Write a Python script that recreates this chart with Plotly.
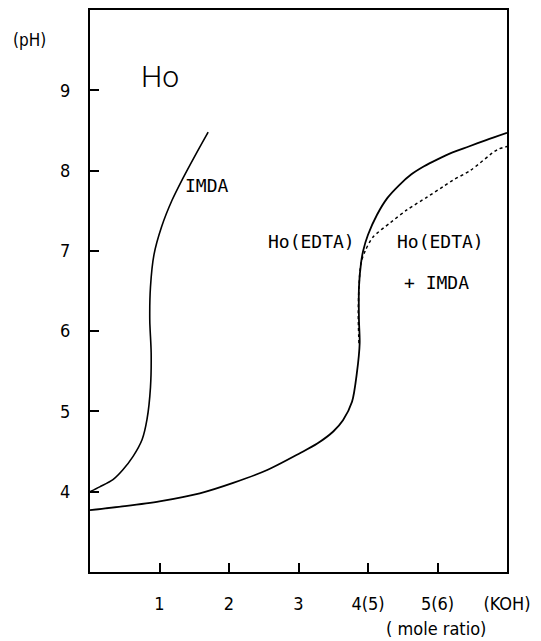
import plotly.graph_objects as go

# IMDA titration curve (x = mole ratio, pH)
imda_x = [0.0, 0.14, 0.33, 0.47, 0.62, 0.75, 0.82, 0.87, 0.88, 0.86, 0.87, 0.92, 1.03, 1.18, 1.34, 1.52, 1.70]
imda_y = [4.00, 4.06, 4.15, 4.27, 4.44, 4.65, 4.90, 5.30, 5.73, 6.14, 6.55, 6.95, 7.30, 7.63, 7.91, 8.20, 8.48]

# Ho(EDTA) curve (solid)
edta_x = [0.0, 0.5, 1.0, 1.58, 2.06, 2.55, 3.02, 3.27, 3.50, 3.64, 3.77, 3.84, 3.88, 3.87,
          3.87, 3.90, 3.93, 4.00, 4.13, 4.28, 4.45, 4.62, 4.80, 5.00, 5.20, 5.45, 5.70, 6.0]
edta_y = [3.77, 3.82, 3.88, 3.98, 4.11, 4.27, 4.48, 4.60, 4.75, 4.89, 5.12, 5.48, 5.85, 6.14,
          6.55, 6.85, 7.00, 7.20, 7.45, 7.66, 7.82, 7.95, 8.05, 8.14, 8.22, 8.30, 8.38, 8.47]

# Ho(EDTA) + IMDA curve (dotted)
mix_x = [3.87, 3.86, 3.87, 3.90, 3.96, 4.07, 4.32, 4.56, 4.85, 5.08, 5.22, 5.47, 5.86, 6.0]
mix_y = [5.85, 6.20, 6.55, 6.85, 7.00, 7.17, 7.35, 7.51, 7.67, 7.80, 7.88, 8.00, 8.26, 8.30]

x_tickvals = [1, 2, 3, 4, 5, 6]
x_ticktext = ["1", "2", "3", "4(5)", "5(6)", "(KOH)"]
y_tickvals = [4, 5, 6, 7, 8, 9]
y_ticktext = ["4", "5", "6", "7", "8", "9"]

FONT = "DejaVu Sans Condensed, Liberation Sans Narrow, DejaVu Sans"
MONO = "DejaVu Sans Mono, Liberation Mono, monospace"

fig = go.Figure()
fig.add_trace(go.Scatter(x=imda_x, y=imda_y, mode="lines",
                         line=dict(color="black", width=1.6, shape="spline", smoothing=0.8),
                         showlegend=False))
fig.add_trace(go.Scatter(x=edta_x, y=edta_y, mode="lines",
                         line=dict(color="black", width=1.8, shape="spline", smoothing=0.8),
                         showlegend=False))
fig.add_trace(go.Scatter(x=mix_x, y=mix_y, mode="lines",
                         line=dict(color="black", width=1.5, dash="dot", shape="spline", smoothing=0.8),
                         showlegend=False))

fig.update_xaxes(range=[0, 6], tickvals=x_tickvals, ticktext=x_ticktext,
                 ticks="inside", ticklen=9, tickwidth=1.5, tickcolor="black",
                 showline=True, linecolor="black", linewidth=2, mirror=True,
                 showgrid=False, zeroline=False, ticklabelstandoff=14, automargin=False,
                 tickfont=dict(family=FONT, size=18, color="black"))
fig.update_yaxes(range=[3, 10], tickvals=y_tickvals, ticktext=y_ticktext,
                 ticks="inside", ticklen=9, tickwidth=1.5, tickcolor="black",
                 showline=True, linecolor="black", linewidth=2, mirror=True,
                 showgrid=False, zeroline=False, ticklabelstandoff=14, automargin=False,
                 tickfont=dict(family=FONT, size=18, color="black"))

ann_font = dict(family=MONO, size=18, color="black")
fig.add_annotation(text="(pH)", xref="paper", yref="paper", x=-0.144, y=0.947,
                   xanchor="center", yanchor="middle", showarrow=False,
                   font=dict(family=FONT, size=17, color="black"))
fig.add_annotation(text="Ho", x=1.0, y=9.17, showarrow=False,
                   font=dict(family="Roboto", size=30, color="black", weight=300))
fig.add_annotation(text="IMDA", x=1.68, y=7.82, showarrow=False, font=ann_font)
fig.add_annotation(text="Ho(EDTA)", x=3.19, y=7.12, showarrow=False, font=ann_font)
fig.add_annotation(text="Ho(EDTA)", x=5.04, y=7.12, showarrow=False, font=ann_font)
fig.add_annotation(text="+ IMDA", x=4.98, y=6.61, showarrow=False, font=ann_font)
fig.add_annotation(text="( mole ratio)", xref="paper", yref="paper", x=0.83, y=-0.1,
                   xanchor="center", yanchor="middle", showarrow=False,
                   font=dict(family=FONT, size=18, color="black"))

fig.update_layout(width=541, height=641, margin=dict(l=90, r=34, t=10, b=69),
                  plot_bgcolor="white", paper_bgcolor="white")

fig.write_html("out.html", config={"displayModeBar": False},
               post_script="document.body.style.margin='0px';")
